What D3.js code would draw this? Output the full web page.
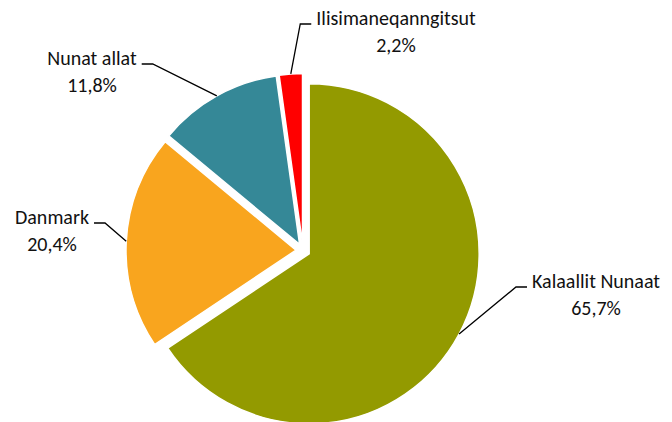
<!DOCTYPE html>
<html>
<head>
  <meta charset="UTF-8">
  <script src="https://d3js.org/d3.v7.min.js"></script>
  <style>
    body { margin: 0; background: #fff; }
    text { font-family: Carlito, Calibri, Lato, sans-serif; fill: #111; }
  </style>
</head>
<body>
  <svg width="672" height="422" id="pie"></svg>

  <script>
    // data
    let categories = ["Kalaallit Nunaat", "Danmark", "Nunat allat", "Ilisimaneqanngitsut"];
    let shares = [65.7, 20.4, 11.8, 2.2];
    let shareLabels = ["65,7%", "20,4%", "11,8%", "2,2%"];
    let colors = ["#939a00", "#f9a51e", "#358897", "#ff0000"];

    // label layout: centre x and first baseline, side the leader comes from
    let labelPos = [
      { x: 596, y: 288, side: "left" },
      { x: 52, y: 224, side: "right" },
      { x: 92, y: 65, side: "right" },
      { x: 396, y: 25, side: "left" }
    ];

    let svg = d3.select("svg");
    let cx = 303, cy = 250.5, radius = 170, explode = 7;

    let data = categories.map((c, i) => ({ name: c, value: shares[i], label: shareLabels[i], i: i }));

    let pie = d3.pie()
      .value(d => d.value)
      .sort(null);

    let arc = d3.arc()
      .innerRadius(0)
      .outerRadius(radius);

    let arcs = pie(data);

    let chart = svg.append("g")
      .attr("transform", `translate(${cx}, ${cy})`);

    function offset(a) {
      let mid = (a.startAngle + a.endAngle) / 2;
      return [Math.sin(mid) * explode, -Math.cos(mid) * explode];
    }

    chart.selectAll(".slice")
      .data(arcs)
      .enter()
      .append("path")
      .attr("class", "slice")
      .attr("transform", d => `translate(${offset(d)[0]}, ${offset(d)[1]})`)
      .attr("d", arc)
      .attr("fill", d => colors[d.data.i])
      .attr("stroke", "#fff")
      .attr("stroke-width", 1.5);

    // labels and leader lines
    arcs.forEach(function(a) {
      let p = labelPos[a.data.i];
      let g = svg.append("g");

      let t1 = g.append("text")
        .attr("x", p.x)
        .attr("y", p.y)
        .attr("text-anchor", "middle")
        .attr("font-size", 20)
        .text(a.data.name);

      g.append("text")
        .attr("x", p.x)
        .attr("y", p.y + 27)
        .attr("text-anchor", "middle")
        .attr("font-size", 20)
        .text(a.data.label);

      let w = t1.node().getComputedTextLength();
      let mid = (a.startAngle + a.endAngle) / 2;
      let o = offset(a);
      let sx = cx + o[0] + Math.sin(mid) * radius;
      let sy = cy + o[1] - Math.cos(mid) * radius;
      let ly = p.y - 1;
      let ex, bx;
      if (p.side === "left") {
        ex = p.x - w / 2 - 5;
        bx = ex - 11;
      } else {
        ex = p.x + w / 2 + 5;
        bx = ex + 11;
      }

      svg.append("polyline")
        .attr("points", `${sx},${sy} ${bx},${ly} ${ex},${ly}`)
        .attr("fill", "none")
        .attr("stroke", "#000")
        .attr("stroke-width", 1.3);
    });
  </script>
</body>
</html>
